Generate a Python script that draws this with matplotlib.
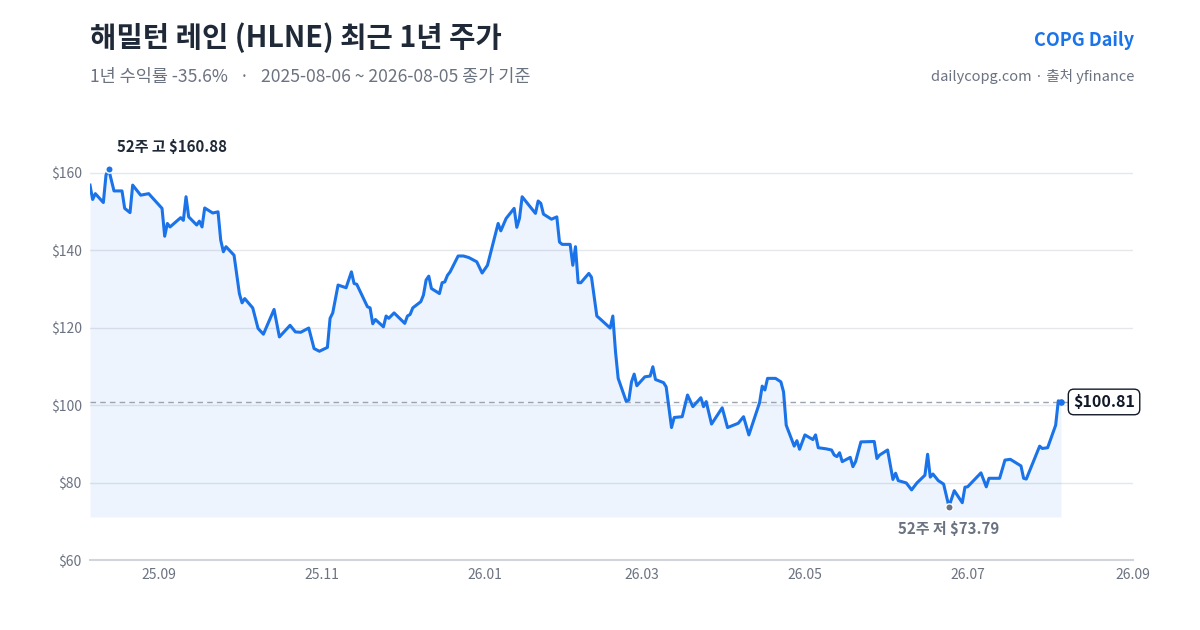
import pandas as pd
import matplotlib
matplotlib.use("Agg")
import matplotlib.pyplot as plt
import matplotlib.dates as mdates

plt.rcParams['font.family'] = ['Noto Sans CJK KR', 'DejaVu Sans']

# 종가
dates = [
    "2025-08-06", "2025-08-07", "2025-08-08", "2025-08-11", "2025-08-12", "2025-08-13", "2025-08-15",
    "2025-08-18", "2025-08-19", "2025-08-21", "2025-08-22", "2025-08-25", "2025-08-28",
    "2025-09-02", "2025-09-03", "2025-09-04", "2025-09-05", "2025-09-09", "2025-09-10", "2025-09-11",
    "2025-09-12", "2025-09-15", "2025-09-16", "2025-09-17", "2025-09-18", "2025-09-21", "2025-09-23",
    "2025-09-24", "2025-09-25", "2025-09-26", "2025-09-29",
    "2025-10-01", "2025-10-02", "2025-10-03", "2025-10-06", "2025-10-08", "2025-10-10", "2025-10-14",
    "2025-10-16", "2025-10-20", "2025-10-22", "2025-10-24", "2025-10-27", "2025-10-29", "2025-10-31",
    "2025-11-03", "2025-11-04", "2025-11-05", "2025-11-07", "2025-11-10", "2025-11-12", "2025-11-13",
    "2025-11-14", "2025-11-18", "2025-11-19", "2025-11-20", "2025-11-21", "2025-11-24", "2025-11-25",
    "2025-11-26", "2025-11-28",
    "2025-12-02", "2025-12-03", "2025-12-04", "2025-12-05", "2025-12-08", "2025-12-09", "2025-12-10",
    "2025-12-11", "2025-12-12", "2025-12-15", "2025-12-16", "2025-12-17", "2025-12-18", "2025-12-19",
    "2025-12-22", "2025-12-24", "2025-12-26", "2025-12-29", "2025-12-31",
    "2026-01-02", "2026-01-06", "2026-01-07", "2026-01-09", "2026-01-12", "2026-01-13", "2026-01-14",
    "2026-01-15", "2026-01-20", "2026-01-21", "2026-01-22", "2026-01-23", "2026-01-26", "2026-01-28",
    "2026-01-29", "2026-01-30",
    "2026-02-02", "2026-02-03", "2026-02-04", "2026-02-05", "2026-02-06", "2026-02-09", "2026-02-10",
    "2026-02-12", "2026-02-13", "2026-02-17", "2026-02-18", "2026-02-19", "2026-02-20", "2026-02-23",
    "2026-02-24", "2026-02-25", "2026-02-26", "2026-02-27",
    "2026-03-02", "2026-03-04", "2026-03-05", "2026-03-06", "2026-03-09", "2026-03-10", "2026-03-12",
    "2026-03-13", "2026-03-16", "2026-03-18", "2026-03-20", "2026-03-23", "2026-03-24", "2026-03-25",
    "2026-03-27", "2026-03-31",
    "2026-04-02", "2026-04-06", "2026-04-08", "2026-04-10", "2026-04-14", "2026-04-15", "2026-04-16",
    "2026-04-17", "2026-04-20", "2026-04-22", "2026-04-23", "2026-04-24", "2026-04-27", "2026-04-28",
    "2026-04-29",
    "2026-05-01", "2026-05-04", "2026-05-05", "2026-05-06", "2026-05-09", "2026-05-11", "2026-05-12",
    "2026-05-13", "2026-05-14", "2026-05-15", "2026-05-18", "2026-05-19", "2026-05-20", "2026-05-22",
    "2026-05-27", "2026-05-28", "2026-05-29",
    "2026-06-01", "2026-06-03", "2026-06-04", "2026-06-05", "2026-06-08", "2026-06-10", "2026-06-12",
    "2026-06-15", "2026-06-16", "2026-06-17", "2026-06-18", "2026-06-20", "2026-06-22", "2026-06-24",
    "2026-06-26", "2026-06-29", "2026-06-30",
    "2026-07-01", "2026-07-06", "2026-07-08", "2026-07-09", "2026-07-13", "2026-07-15", "2026-07-17",
    "2026-07-21", "2026-07-22", "2026-07-23", "2026-07-28", "2026-07-29", "2026-07-31",
    "2026-08-03", "2026-08-04", "2026-08-05",
]
closes = [
    156.8, 153.1, 154.6, 152.3, 159.4, 160.88, 155.3, 155.3, 150.8, 149.7, 156.8, 154.2, 154.6,
    150.8, 143.6, 146.9, 146.0, 148.4, 147.7, 153.8, 148.6, 146.5, 147.5, 146.0, 150.9, 149.6, 149.9,
    142.6, 139.6, 140.9, 138.7,
    128.8, 126.4, 127.5, 125.1, 119.8, 118.3, 124.7, 117.6, 120.6, 118.9, 118.8, 119.9, 114.6, 113.9,
    114.9, 122.4, 123.8, 131.0, 130.3, 134.4, 131.4, 131.2, 125.4, 125.1, 121.0, 122.1, 120.2, 123.0,
    122.4, 123.8,
    121.1, 123.0, 123.4, 125.1, 126.7, 128.4, 132.3, 133.3, 130.1, 128.8, 131.6, 131.8, 133.5, 134.4,
    138.5, 138.5, 138.1, 137.0, 134.1,
    136.1, 146.9, 145.0, 148.2, 150.8, 145.9, 148.2, 153.8, 149.5, 152.7, 152.1, 149.3, 148.0, 148.6,
    142.1, 141.5,
    141.5, 136.1, 140.9, 131.6, 131.6, 134.0, 133.0, 123.0, 122.4, 119.9, 123.0, 113.8, 106.9, 101.0,
    101.3, 106.0, 108.0, 105.0,
    107.3, 107.5, 109.9, 106.6, 105.8, 104.7, 94.2, 96.8, 97.0, 102.6, 99.6, 101.9, 99.6, 100.9,
    95.1, 99.3,
    94.2, 95.3, 97.0, 92.3, 100.6, 104.9, 103.9, 106.9, 106.9, 106.0, 103.4, 94.8, 89.4, 90.8, 88.6,
    92.3, 91.1, 92.3, 89.0, 88.7, 88.4, 87.1, 86.7, 87.7, 85.4, 86.5, 84.1, 85.4, 90.5, 90.6, 86.2, 87.1,
    88.4, 80.8, 82.4, 80.5, 79.9, 78.1, 79.9, 81.9, 87.3, 81.4, 82.2, 80.5, 79.6, 73.79, 77.9, 74.8, 78.8,
    78.9, 82.5, 78.9, 81.1, 81.1, 85.8, 86.0, 84.3, 81.1, 80.9, 89.4, 88.8, 89.0,
    94.8, 101.1, 100.81,
]

y_ticks = [60, 80, 100, 120, 140, 160]
x_ticks = ["2025-09-01", "2025-11-01", "2026-01-01", "2026-03-01", "2026-05-01", "2026-07-01", "2026-09-01"]
fill_floor = 71.1

title = "해밀턴 레인 (HLNE) 최근 1년 주가"
subtitle = "1년 수익률 -35.6%   ·   2025-08-06 ~ 2026-08-05 종가 기준"
brand = "COPG Daily"
source = "dailycopg.com · 출처 yfinance"

BLUE = "#1a73e8"
GRAY = "#6b7280"
DARK = "#1f2937"

df = pd.DataFrame({"date": pd.to_datetime(dates), "close": closes})
hi = df.loc[df["close"].idxmax()]
lo = df.loc[df["close"].idxmin()]
last = df.iloc[-1]

fig = plt.figure(figsize=(12, 6.3), dpi=100)
ax = fig.add_axes([90 / 1200, 70 / 630, 1043 / 1200, 426 / 630])

ax.fill_between(df["date"], df["close"], fill_floor, color=BLUE, alpha=0.08, linewidth=0)
ax.plot(df["date"], df["close"], color=BLUE, linewidth=2.2, solid_joinstyle="round", zorder=3)
ax.axhline(last["close"], color="#9ca3af", linestyle=(0, (4, 3)), linewidth=1.0, zorder=2)

ax.set_xlim(pd.Timestamp("2025-08-06"), pd.Timestamp("2026-09-01"))
ax.set_ylim(60, 170)
ax.set_yticks(y_ticks)
ax.set_yticklabels([f"${v}" for v in y_ticks])
ax.set_xticks(pd.to_datetime(x_ticks))
ax.xaxis.set_major_formatter(mdates.DateFormatter("%y.%m"))
ax.grid(axis="y", color="#e5e7eb", linewidth=1.0)
ax.set_axisbelow(True)
for s in ["top", "right", "left"]:
    ax.spines[s].set_visible(False)
ax.spines["bottom"].set_color("#d1d5db")
ax.spines["bottom"].set_linewidth(1.5)
ax.tick_params(length=0, labelsize=10, labelcolor=GRAY, pad=6)

# 52주 고/저
ax.scatter([hi["date"]], [hi["close"]], s=28, color=BLUE, zorder=4, edgecolors="white", linewidths=1)
ax.annotate(f"52주 고 ${hi['close']:.2f}", (hi["date"], hi["close"]), xytext=(6, 16),
            textcoords="offset points", ha="left", va="center", fontsize=10.8,
            fontweight="bold", color=DARK, annotation_clip=False)
ax.scatter([lo["date"]], [lo["close"]], s=28, color=GRAY, zorder=4, edgecolors="white", linewidths=1)
ax.annotate(f"52주 저 ${lo['close']:.2f}", (lo["date"], lo["close"]), xytext=(0, -16),
            textcoords="offset points", ha="center", va="center", fontsize=10.8,
            fontweight="bold", color=GRAY, annotation_clip=False)

# 마지막 종가
ax.scatter([last["date"]], [last["close"]], s=14, color=BLUE, zorder=4)
ax.annotate(f"${last['close']:.2f}", (last["date"], last["close"]), xytext=(31, 0),
            textcoords="offset points", ha="center", va="center", fontsize=11.5,
            fontweight="bold", color="#111827", annotation_clip=False,
            bbox=dict(boxstyle="round,pad=0.3,rounding_size=0.35", fc="white", ec="#111827", lw=1.0))

fig.text(90 / 1200, 1 - 38 / 630, title, fontsize=20.6, fontweight="bold", color=DARK, va="center")
fig.text(90 / 1200, 1 - 77 / 630, subtitle, fontsize=12.6, color=GRAY, va="center")
fig.text(1134 / 1200, 1 - 40 / 630, brand, fontsize=13, fontweight="bold", color=BLUE,
         ha="right", va="center")
fig.text(1134 / 1200, 1 - 77 / 630, source, fontsize=10.5, color=GRAY, ha="right", va="center")

fig.savefig("out.png", dpi=100)
